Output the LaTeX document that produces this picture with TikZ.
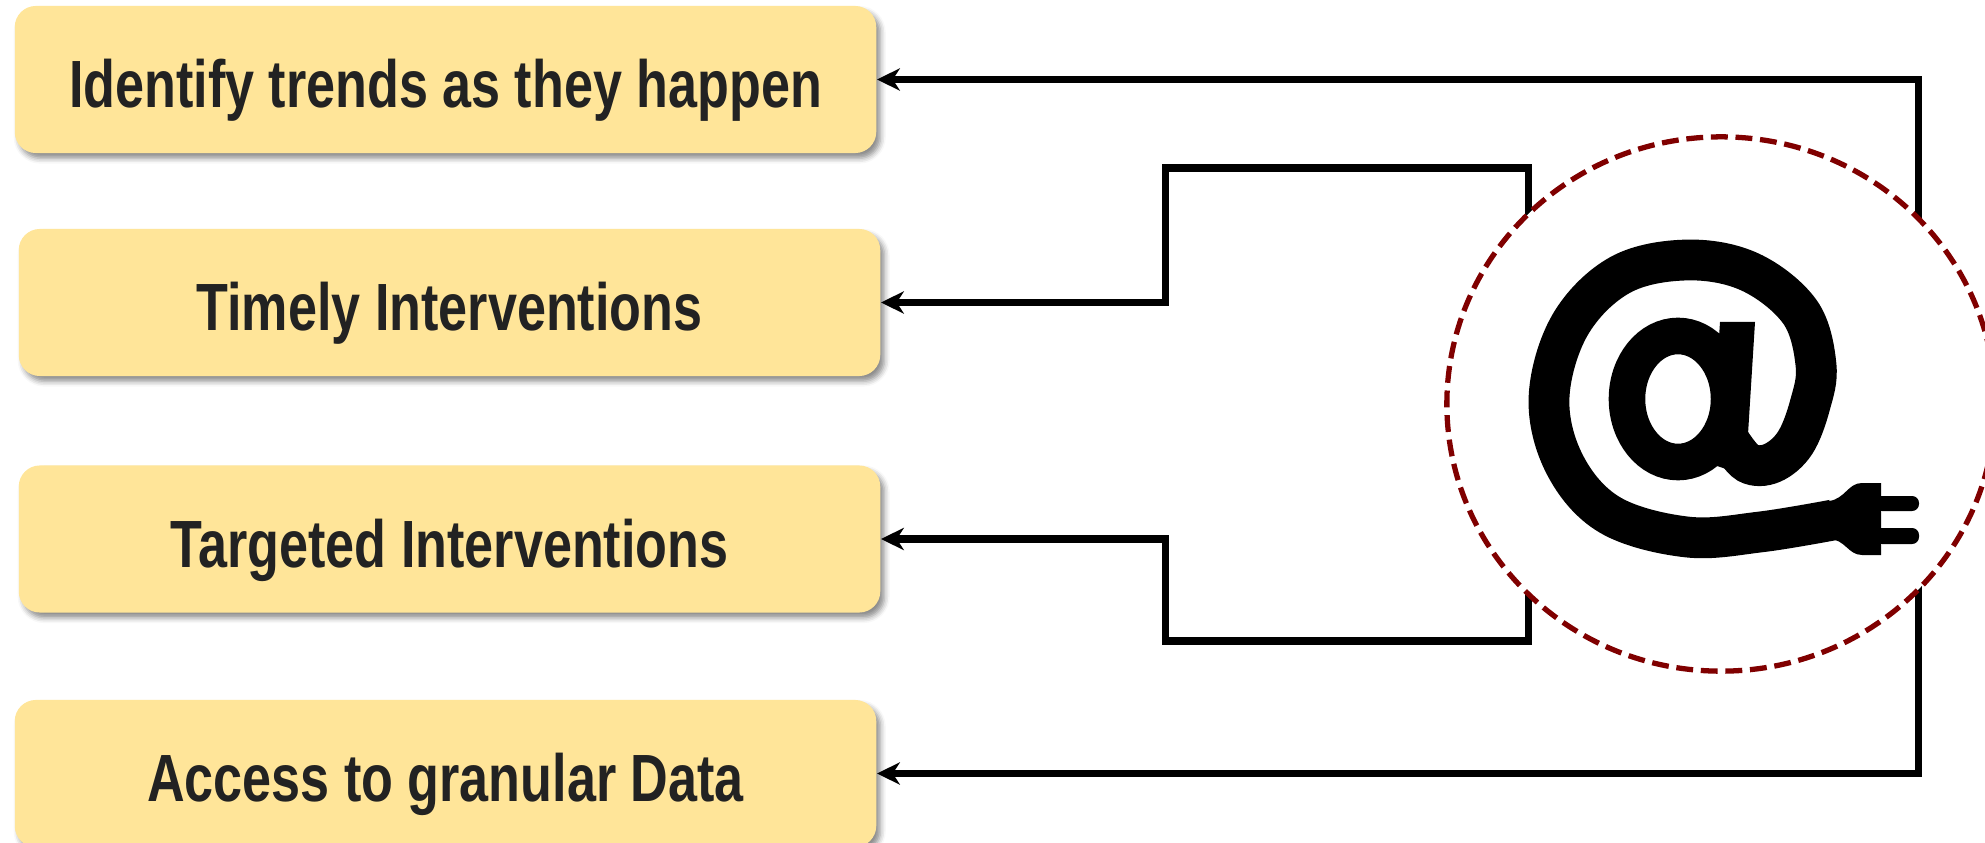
\documentclass[tikz,border=0pt]{standalone}
\usepackage{fontspec}
\setmainfont{Liberation Sans}[FakeStretch=0.78]
\usetikzlibrary{calc,arrows.meta,shapes.geometric,shadows.blur}
\definecolor{boxfill}{HTML}{FFE599}
\definecolor{boxtext}{HTML}{222222}
\definecolor{ringred}{HTML}{800000}
\tikzset{
  goal/.style={fill=boxfill, rounded corners=6pt, minimum width=8.61cm, minimum height=1.47cm,
    inner sep=0pt, text height=16pt, text depth=0pt, text=boxtext,
    font=\fontsize{19}{23}\selectfont\bfseries,
    blur shadow={shadow xshift=1.2pt, shadow yshift=-1.5pt, shadow blur radius=1.5pt, shadow opacity=45}},
  link/.style={line width=2pt, -{Stealth[length=6.5pt,width=6.3pt,inset=2pt]}},
  hub/.style={ellipse, draw=ringred, line width=1.5pt, dash pattern=on 4.8pt off 2.2pt,
    fill=white, minimum width=5.48cm, minimum height=5.34cm, inner sep=0pt},
  cord/.style={line width=10.4pt}
}
\begin{document}
\begin{tikzpicture}[x=0.01cm,y=-0.01cm]
\useasboundingbox (0,0) rectangle (1985,843);
\clip (0,0) rectangle (1985,843);

\node[goal] (trend) at (445.5,79.5) {Identify trends as they happen};
\node[goal] (timely) at (449.5,302.5) {Timely Interventions};
\node[goal] (target) at (449.5,539) {Targeted Interventions};
\node[goal] (data) at (445.5,773.5) {Access to granular Data};

\coordinate (c) at (1721,404);

\draw[link] ($(c)+(197,0)$) |- (trend.east);
\draw[link] ($(c)+(-193,0)$) |- (1165,168) |- (timely.east);
\draw[link] ($(c)+(-193,0)$) |- (1165,641) |- (target.east);
\draw[link] ($(c)+(197,0)$) |- (data.east);

\node[hub] (hub) at (c) {};

% the @ with its plug
\draw[cord] (1678,399) ellipse [x radius=0.51cm, y radius=0.63cm];
\fill (1720,322) -- (1755,322) -- (1747,450) -- (1735,472) -- (1705,462) -- (1712,440) -- cycle;
\draw[cord, line width=11.6pt] plot[smooth, tension=0.6] coordinates {(1729,440) (1748,463) (1772,463) (1795,443)
  (1810,405) (1816,365) (1800,312) (1750,272) (1687,260) (1620,275) (1570,325) (1549,398)
  (1565,465) (1610,515) (1687,537) (1760,532) (1833,520)};
\fill (1829,501) .. controls (1845,499) and (1848,483) .. (1862,483) -- (1881,483)
  -- (1881,555) -- (1862,555) .. controls (1848,555) and (1845,539) .. (1829,539) -- cycle;
\fill[rounded corners=0.07cm] (1875,496) rectangle (1919,511);
\fill[rounded corners=0.07cm] (1875,528) rectangle (1919,544);

\end{tikzpicture}
\end{document}
